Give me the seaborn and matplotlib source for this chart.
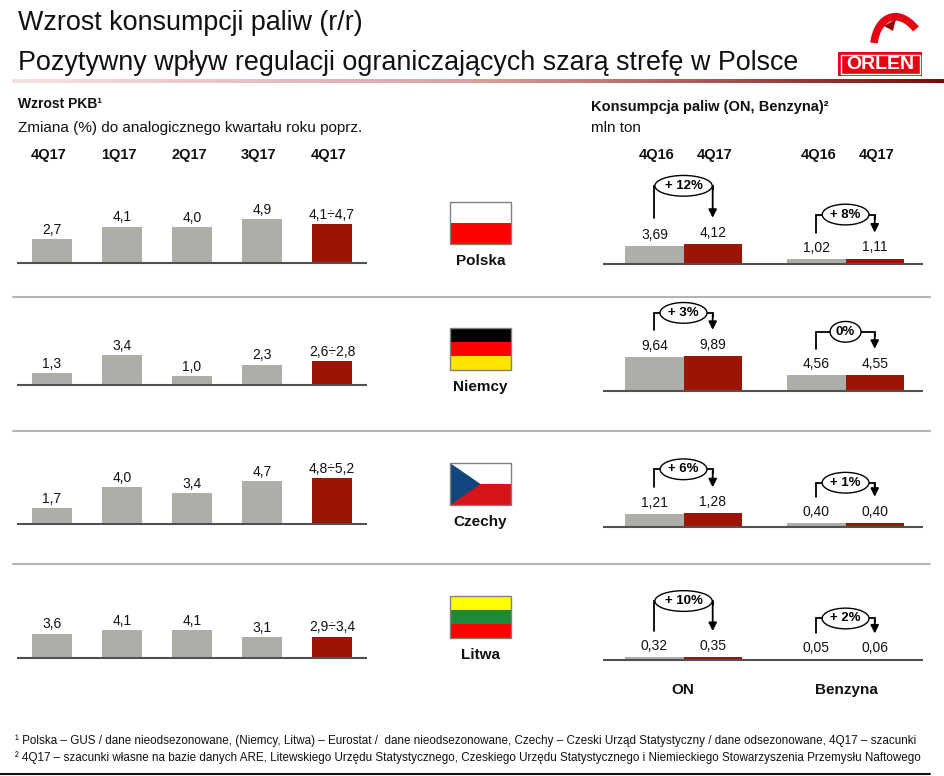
import numpy as np
import pandas as pd
import matplotlib
matplotlib.use('Agg')
import matplotlib.pyplot as plt
from matplotlib.colors import LinearSegmentedColormap
from matplotlib.patches import Rectangle, Polygon, PathPatch
from matplotlib.path import Path
import seaborn as sns

sns.set_theme(style='white')
plt.rcParams['font.family'] = ['Liberation Sans', 'DejaVu Sans']

# ===============================
# Data
# ===============================
quarters = ['4Q17', '1Q17', '2Q17', '3Q17', '4Q17']
countries = ['Polska', 'Niemcy', 'Czechy', 'Litwa']
gdp_polska = [2.7, 4.1, 4.0, 4.9]
gdp_niemcy = [1.3, 3.4, 1.0, 2.3]
gdp_czechy = [1.7, 4.0, 3.4, 4.7]
gdp_litwa = [3.6, 4.1, 4.1, 3.1]
gdp_4q17_low = [4.1, 2.6, 4.8, 2.9]
gdp_4q17_high = [4.7, 2.8, 5.2, 3.4]

fuels = ['ON', 'Benzyna']
fuel_periods = ['4Q16', '4Q17']
on_4q16 = [3.69, 9.64, 1.21, 0.32]
on_4q17 = [4.12, 9.89, 1.28, 0.35]
benz_4q16 = [1.02, 4.56, 0.40, 0.05]
benz_4q17 = [1.11, 4.55, 0.40, 0.06]
on_change = ['+ 12%', '+ 3%', '+ 6%', '+ 10%']
benz_change = ['+ 8%', '0%', '+ 1%', '+ 2%']

# ===============================
# Layout (pixels)
# ===============================
W, H = 945, 776
GREY = '#AEAEA9'
RED = '#9C1403'
AXIS = '#505050'
TXT = '#111111'
left_base = [263, 385, 524, 658]
right_base = [264, 391, 527, 660]
left_scale = [8.9, 8.9, 9.2, 6.8]
right_scale = [4.9, 3.55, 10.7, 8.5]
flag_top = [202, 328, 463, 596]
on_rise = [32, 17, 18, 30]
benz_rise = [18, 17, 14, 15]
separators = [297, 431, 564]

fig = plt.figure(figsize=(W / 100, H / 100), dpi=100)


def px_axes(x0, y0, x1, y1):
    return fig.add_axes([x0 / W, 1 - y1 / H, (x1 - x0) / W, (y1 - y0) / H])


def to_px(ax, x, y):
    dx, dy = ax.transData.transform((x, y))
    return dx, H - dy


def comma(v, nd):
    return f'{v:.{nd}f}'.replace('.', ',')


# ===============================
# Left panel: GDP growth
# ===============================
gdp_rows = [gdp_polska, gdp_niemcy, gdp_czechy, gdp_litwa]
left_axes = []
for i, country in enumerate(countries):
    lo, hi = gdp_4q17_low[i], gdp_4q17_high[i]
    vals = gdp_rows[i] + [(lo + hi) / 2]
    keys = [f'q{k}' for k in range(5)]
    df = pd.DataFrame({'pos': keys, 'value': vals})
    base, sc = left_base[i], left_scale[i]
    ax = px_axes(17, base - 75, 367, base + 2)
    sns.barplot(data=df, x='pos', y='value', hue='pos', order=keys, hue_order=keys,
                palette=[GREY] * 4 + [RED], saturation=1, width=0.56,
                linewidth=0, legend=False, ax=ax)
    ax.set_xlim(-0.5, 4.5)
    ax.set_ylim(-2 / sc, 75 / sc)
    ax.axhline(0, color=AXIS, lw=1.5)
    ax.set_axis_off()
    labels = [comma(v, 1) for v in gdp_rows[i]] + [f'{comma(lo, 1)}÷{comma(hi, 1)}']
    for cont, lab in zip(ax.containers, labels):
        ax.bar_label(cont, labels=[lab], padding=1.5, fontsize=10, color=TXT)
    left_axes.append(ax)

# ===============================
# Right panel: fuel consumption
# ===============================
brackets = []
right_axes = []
for i in range(4):
    df = pd.DataFrame({
        'fuel': ['ON', 'ON', 'Benzyna', 'Benzyna'],
        'period': fuel_periods * 2,
        'value': [on_4q16[i], on_4q17[i], benz_4q16[i], benz_4q17[i]],
    })
    base, sc = right_base[i], right_scale[i]
    ax = px_axes(603, base - 90, 923, base + 2)
    sns.barplot(data=df, x='fuel', y='value', hue='period', order=fuels,
                hue_order=fuel_periods, palette=[GREY, RED], saturation=1,
                width=0.72, gap=0, linewidth=0, legend=False, ax=ax)
    ax.set_xlim(-0.497, 1.478)
    ax.set_ylim(-2 / sc, 90 / sc)
    ax.axhline(0, color=AXIS, lw=1.5)
    ax.set_axis_off()
    for cont in ax.containers:
        ax.bar_label(cont, labels=[comma(b.get_height(), 2) for b in cont],
                     padding=3, fontsize=10, color=TXT)
    for j, (chg, rise) in enumerate([(on_change[i], on_rise[i]), (benz_change[i], benz_rise[i])]):
        b0 = ax.containers[0][j]
        b1 = ax.containers[1][j]
        x0, y0 = to_px(ax, b0.get_x() + b0.get_width() / 2, b0.get_height())
        x1, y1 = to_px(ax, b1.get_x() + b1.get_width() / 2, b1.get_height())
        arm = min(y0, y1) - 26
        brackets.append((x0, x1, arm, arm - rise, chg))
    right_axes.append(ax)

# ===============================
# Overlay: titles, flags, brackets
# ===============================
ov = fig.add_axes([0, 0, 1, 1])
ov.set_axis_off()

# title gradient line
grad = LinearSegmentedColormap.from_list('g', ['#F4E2E2', '#D9A0A0', '#7A0A0A'])
ov.imshow(np.linspace(0, 1, 256)[None, :], cmap=grad, aspect='auto',
          extent=(12, 945, 83, 79), zorder=1)
ov.set_xlim(0, W)
ov.set_ylim(H, 0)

ov.text(18, 23, 'Wzrost konsumpcji paliw (r/r)', fontsize=19.4,
        va='center', ha='left', color=TXT)
ov.text(18, 63, 'Pozytywny wpływ regulacji ograniczających szarą strefę w Polsce',
        fontsize=19.4, va='center', ha='left', color=TXT)

# ORLEN logo
ov.add_patch(Rectangle((838, 52), 84, 24, fc='#E30613', ec='none', zorder=2))
ov.add_patch(Rectangle((840.5, 54.5), 79, 19, fc='none', ec='white', lw=1, zorder=3))
ov.text(880, 64.5, 'ORLEN', color='white', fontsize=14, weight='bold',
        ha='center', va='center', zorder=4)
logo = Path([(874, 43), (877, 18), (897, 6), (916, 29)],
            [Path.MOVETO, Path.CURVE4, Path.CURVE4, Path.CURVE4])
ov.add_patch(PathPatch(logo, fc='none', ec='#E30613', lw=5.5, capstyle='butt', zorder=2))
ov.add_patch(Polygon([(884, 26), (896, 19), (893, 31)], fc='#8E0A0A', ec='none', zorder=3))

# section headers
ov.text(18, 104, 'Wzrost PKB¹', weight='bold', fontsize=10, va='center', color=TXT)
ov.text(18, 128, 'Zmiana (%) do analogicznego kwartału roku poprz.',
        fontsize=11, va='center', color=TXT)
ov.text(591, 107, 'Konsumpcja paliw (ON, Benzyna)²', weight='bold',
        fontsize=10.5, va='center', color=TXT)
ov.text(591, 128, 'mln ton', fontsize=11, va='center', color=TXT)

for k, q in enumerate(quarters):
    bx, _ = to_px(left_axes[0], k, 0)
    ov.text(bx - 3, 155, q, weight='bold', fontsize=10.5, ha='center', va='center',
            color=TXT)
for cont, per in zip(right_axes[0].containers, fuel_periods):
    for b in cont:
        bx, _ = to_px(right_axes[0], b.get_x() + b.get_width() / 2, 0)
        ov.text(bx + 2, 155, per, weight='bold', fontsize=10.5, ha='center',
                va='center', color=TXT)

# separators and bottom rule
for y in separators:
    ov.plot([13, 930], [y, y], color='#B4B4B4', lw=1.5, zorder=1)
ov.plot([0, 930], [774, 774], color=TXT, lw=1.5)

# flags
fx, fw, fh = 450, 61, 42
flag_colors = {
    'Polska': ['#FFFFFF', '#FF0000'],
    'Niemcy': ['#000000', '#FF0000', '#FFE500'],
    'Czechy': ['#FFFFFF', '#D7141A'],
    'Litwa': ['#FFFF00', '#1C8A3A', '#FF0000'],
}
for i, country in enumerate(countries):
    ft = flag_top[i]
    stripes = flag_colors[country]
    sh = fh / len(stripes)
    for s, c in enumerate(stripes):
        ov.add_patch(Rectangle((fx, ft + s * sh), fw, sh, fc=c, ec='none', zorder=2))
    if country == 'Czechy':
        ov.add_patch(Polygon([(fx, ft), (fx + fw / 2, ft + fh / 2), (fx, ft + fh)],
                             fc='#11457E', ec='none', zorder=3))
    ov.add_patch(Rectangle((fx, ft), fw, fh, fc='none', ec='#808080', lw=1, zorder=4))
    ov.text(fx + fw / 2, ft + 59, country, weight='bold', fontsize=11, ha='center',
            va='center', color=TXT)

# growth brackets
for x0, x1, arm, top, chg in brackets:
    ov.plot([x0, x0, x1, x1], [arm, top, top, top + 4], color='black', lw=1.3,
            solid_joinstyle='miter')
    ov.annotate('', xy=(x1, arm), xytext=(x1, top + 2),
                arrowprops=dict(arrowstyle='-|>', color='black', lw=1.3,
                                mutation_scale=12, shrinkA=0, shrinkB=0))
    ov.text((x0 + x1) / 2, top, chg, weight='bold', fontsize=9.5,
            ha='center', va='center', color='black',
            bbox=dict(boxstyle='ellipse,pad=0.1', fc='white', ec='black', lw=1))

ov.text(683, 690, 'ON', weight='bold', fontsize=11, ha='center', va='center', color=TXT)
ov.text(846, 690, 'Benzyna', weight='bold', fontsize=11, ha='center', va='center', color=TXT)

# footnotes
ov.text(15, 741, '¹ Polska – GUS / dane nieodsezonowane, (Niemcy, Litwa) – Eurostat /  dane '
        'nieodsezonowane, Czechy – Czeski Urząd Statystyczny / dane odsezonowane, 4Q17 – szacunki',
        fontsize=8.4, va='center', color=TXT)
ov.text(15, 758, '² 4Q17 – szacunki własne na bazie danych ARE, Litewskiego Urzędu '
        'Statystycznego, Czeskiego Urzędu Statystycznego i Niemieckiego Stowarzyszenia '
        'Przemysłu Naftowego', fontsize=8.4, va='center', color=TXT)

fig.savefig('out.png', dpi=100, facecolor='white')
